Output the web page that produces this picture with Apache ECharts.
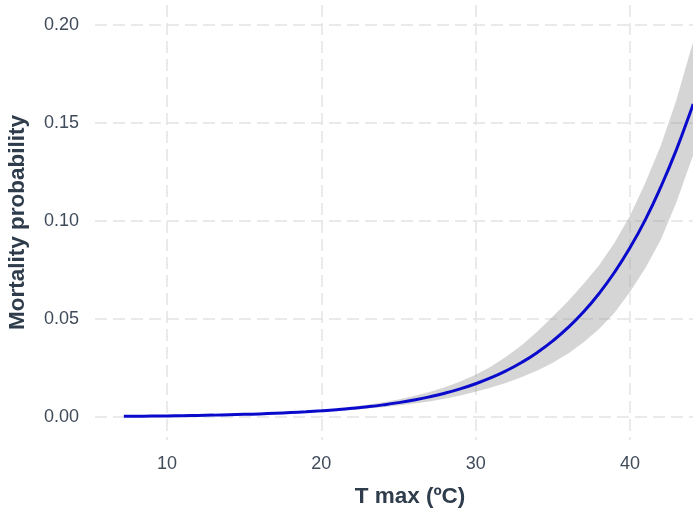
<!DOCTYPE html>
<html>
<head>
<meta charset="utf-8">
<title>Mortality probability vs T max</title>
<script src="https://cdn.jsdelivr.net/npm/echarts@6/dist/echarts.min.js"></script>
<style>
  html, body { margin: 0; padding: 0; background: #ffffff; }
  #chart { width: 693px; height: 512px; }
</style>
</head>
<body>
<div id="chart"></div>
<script>
// Daily maximum temperature (ºC)
const tMax = [7.2, 8, 9, 10, 11, 12, 13, 14, 15, 16, 17, 18, 19, 20, 21, 22, 23, 24, 25, 26,
  27, 28, 29, 30, 31, 32, 33, 34, 35, 36, 37, 38, 39, 40, 41, 42, 43, 44, 44.1];

// Fitted mortality probability
const mortality = [0.000358, 0.000411, 0.000487, 0.000578, 0.000685, 0.000811, 0.000961,
  0.001138, 0.001348, 0.001597, 0.001892, 0.002241, 0.002655, 0.003147, 0.003727, 0.004414,
  0.005228, 0.006190, 0.007329, 0.008674, 0.010265, 0.012144, 0.014361, 0.016976, 0.020058,
  0.023686, 0.027952, 0.032960, 0.038829, 0.045692, 0.053702, 0.063024, 0.073837, 0.086335,
  0.100720, 0.117380, 0.136160, 0.157430, 0.159700];

// Confidence band limits
const ciLower = [0.000308, 0.000354, 0.000419, 0.000498, 0.000590, 0.000698, 0.000827,
  0.000980, 0.001161, 0.001375, 0.001629, 0.001929, 0.002286, 0.002711, 0.003162, 0.003690,
  0.004305, 0.005024, 0.005860, 0.006837, 0.007973, 0.009344, 0.010946, 0.012889, 0.015013,
  0.017495, 0.020365, 0.023714, 0.027708, 0.032378, 0.038134, 0.044891, 0.053243, 0.063728,
  0.076028, 0.090493, 0.109319, 0.131525, 0.133482];

const ciUpper = [0.000416, 0.000478, 0.000566, 0.000672, 0.000796, 0.000942, 0.001117,
  0.001322, 0.001566, 0.001856, 0.002198, 0.002604, 0.003085, 0.003654, 0.004371, 0.005228,
  0.006253, 0.007476, 0.008936, 0.010679, 0.012759, 0.015236, 0.018104, 0.021497, 0.025751,
  0.030835, 0.036699, 0.043622, 0.051281, 0.059132, 0.068027, 0.077446, 0.088873, 0.102724,
  0.119466, 0.138508, 0.161431, 0.188850, 0.191467];

// Axis ticks
const xTicks = [10, 20, 30, 40];
const yTicks = [0, 0.05, 0.10, 0.15, 0.20];

const FONT = '"Liberation Sans", Arial, Helvetica, sans-serif';
const gridLine = { type: [12, 6], color: '#e3e3e3', width: 1.5 };

const linePts = tMax.map((t, i) => [t, mortality[i]]);

// Ribbon between the lower and upper limits, drawn as one polygon in data coordinates
function renderBand(params, api) {
  if (params.dataIndex !== 0) return null;
  const pts = [];
  for (let i = 0; i < tMax.length; i++) pts.push(api.coord([tMax[i], ciUpper[i]]));
  for (let i = tMax.length - 1; i >= 0; i--) pts.push(api.coord([tMax[i], ciLower[i]]));
  return {
    type: 'polygon',
    shape: { points: pts, smooth: 0 },
    style: { fill: 'rgba(150,150,150,0.4)' },
    silent: true
  };
}

const chart = echarts.init(document.getElementById('chart'), null, { renderer: 'canvas' });
chart.setOption({
  animation: false,
  backgroundColor: '#ffffff',
  grid: { left: 95, right: -32, top: 5, bottom: 72, containLabel: false, outerBoundsMode: 'none' },
  xAxis: {
    type: 'value',
    min: 5.33,
    max: 46.16,
    name: 'T max (ºC)',
    nameLocation: 'middle',
    nameGap: 45,
    nameTextStyle: { fontFamily: FONT, fontSize: 22.5, fontWeight: 'bold', color: '#2e3c4b' },
    axisLine: { show: false },
    axisTick: { show: false, customValues: xTicks },
    axisLabel: {
      customValues: xTicks,
      margin: 15,
      fontFamily: FONT, fontSize: 18, color: '#404b5a'
    },
    splitLine: { show: true, lineStyle: gridLine }
  },
  yAxis: {
    type: 'value',
    min: -0.01173,
    max: 0.2102,
    name: 'Mortality probability',
    nameLocation: 'middle',
    nameGap: 66,
    nameTextStyle: { fontFamily: FONT, fontSize: 22.5, fontWeight: 'bold', color: '#2e3c4b' },
    axisLine: { show: false },
    axisTick: { show: false, customValues: yTicks },
    axisLabel: {
      customValues: yTicks,
      margin: 16,
      formatter: v => v.toFixed(2),
      fontFamily: FONT, fontSize: 18, color: '#404b5a'
    },
    splitLine: { show: true, lineStyle: gridLine }
  },
  series: [
    {
      name: 'band',
      type: 'custom',
      data: tMax.map((t, i) => [t, ciUpper[i]]),
      renderItem: renderBand,
      silent: true,
      z: 2
    },
    {
      name: 'mortality',
      type: 'line',
      data: linePts,
      symbol: 'none',
      smooth: true,
      lineStyle: { color: '#0a0acd', width: 3 },
      z: 5
    }
  ]
});
</script>
</body>
</html>
